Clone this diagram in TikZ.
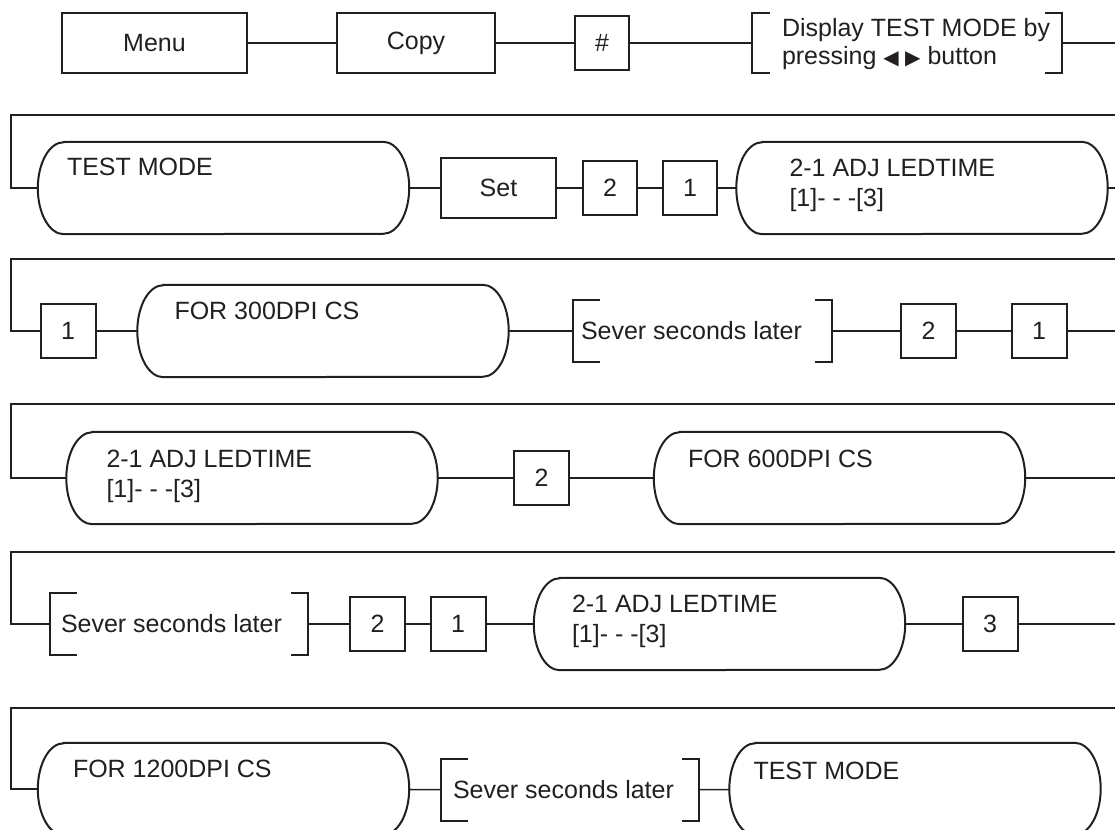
\documentclass[tikz,border=0pt]{standalone}
\usepackage{fontspec}
\setmainfont{Liberation Sans}
\newfontfamily\symfont{DejaVu Sans}
\usetikzlibrary{calc}
\definecolor{ink}{HTML}{231F20}
\tikzset{
 rim/.style={ink,line width=2pt},
 link/.style={ink,line width=1.6pt},
 btn/.style={draw=ink,line width=2pt,minimum height=60pt,inner sep=0pt,text=ink},
 digit/.style={btn,minimum width=55pt,minimum height=54pt},
 pill/.style={minimum width=371pt,minimum height=92pt,inner sep=0pt},
 brk/.style={minimum width=258pt,minimum height=61pt,inner sep=0pt},
 txt/.style={inner sep=0pt,align=left,text=ink}
}
\newcommand{\pillrim}[1]{\draw[rim] ([xshift=26pt]#1.north west) -- ([xshift=-26pt]#1.north east) arc[start angle=90,end angle=-90,x radius=26pt,y radius=46pt] -- ([xshift=26pt]#1.south west) arc[start angle=270,end angle=90,x radius=26pt,y radius=46pt] -- cycle;}
\newcommand{\brkrim}[3]{\draw[rim] ([xshift=#2]#1.north west) -- (#1.north west) -- (#1.south west) -- ++(#2,0);\draw[rim] ([xshift=-#3]#1.north east) -- (#1.north east) -- (#1.south east) -- ++(-#3,0);}
\begin{document}
\begin{tikzpicture}[x=1pt,y=1pt,font=\fontsize{25}{30}\selectfont]
\useasboundingbox (0,0) rectangle (1115,-829);
\clip (0,0) rectangle (1115,-829);
% row 1
\node[btn,minimum width=185pt] (menu) at (154.5,-43) {Menu};
\node[btn,minimum width=158pt] (copy) at (416,-43) {Copy};
\node[digit,minimum width=54pt] (hash) at (602,-43) {\#};
\node[brk,minimum width=310pt,minimum height=60pt] (disp) at (907,-43) {};\brkrim{disp}{18pt}{17pt}
\node[txt,anchor=west,font=\fontsize{25}{28}\selectfont] (dispt) at ([xshift=30pt,yshift=-1pt]disp.west) {Display TEST MODE by\\pressing {\symfont\fontsize{20}{20}\selectfont ◀ ▶} button};
\coordinate (e1) at (1115,-43);\coordinate (w1) at (1115,-115);
\draw[link] (menu) -- (copy);\draw[link] (copy) -- (hash);\draw[link] (hash) -- (disp);\draw[link] (disp) -- (e1);
% row 2
\node[pill] (tm1) at (223.5,-188) {};\pillrim{tm1}
\node[txt,anchor=north west] (tm1t) at ([shift={(29pt,-16pt)}]tm1.north west) {TEST MODE};
\node[btn,minimum width=115pt] (set) at (498.5,-188) {Set};
\node[digit,minimum width=54pt] (two1) at (610,-188) {2};
\node[digit,minimum width=54pt] (one1) at (690,-188) {1};
\node[pill] (adj1) at (922,-188) {};\pillrim{adj1}
\node[txt,anchor=north west] (adj1t) at ([shift={(53pt,-17pt)}]adj1.north west) {2-1 ADJ LEDTIME\\{}[1]- - -[3]};
\coordinate (e2) at (1115,-188);\coordinate (w2) at (1115,-259);
\draw[link] (w1) -- (11,-115) |- (tm1);\draw[link] (tm1) -- (set);\draw[link] (set) -- (two1);\draw[link] (two1) -- (one1);\draw[link] (one1) -- (adj1);\draw[link] (adj1) -- (e2);
% row 3
\node[digit] (one2) at (68,-331) {1};
\node[pill] (p300) at (323,-331) {};\pillrim{p300}
\node[txt,anchor=north west] (p300t) at ([shift={(37pt,-17pt)}]p300.north west) {FOR 300DPI CS};
\node[brk,minimum width=259pt] (sev1) at (702.5,-331) {};\brkrim{sev1}{27pt}{17pt}
\node[txt,anchor=west] (sev1t) at ([xshift=8pt]sev1.west) {Sever seconds later};
\node[digit] (two2) at (928.5,-331) {2};
\node[digit] (one3) at (1039,-331) {1};
\coordinate (e3) at (1115,-331);\coordinate (w3) at (1115,-404);
\draw[link] (w2) -- (11,-259) |- (one2);\draw[link] (one2) -- (p300);\draw[link] (p300) -- (sev1);\draw[link] (sev1) -- (two2);\draw[link] (two2) -- (one3);\draw[link] (one3) -- (e3);
% row 4
\node[pill] (adj2) at (252,-478) {};\pillrim{adj2}
\node[txt,anchor=north west] (adj2t) at ([shift={(40pt,-18pt)}]adj2.north west) {2-1 ADJ LEDTIME\\{}[1]- - -[3]};
\node[digit] (two3) at (541.5,-478) {2};
\node[pill] (p600) at (839.5,-478) {};\pillrim{p600}
\node[txt,anchor=north west] (p600t) at ([shift={(34pt,-18pt)}]p600.north west) {FOR 600DPI CS};
\coordinate (e4) at (1115,-478);\coordinate (w4) at (1115,-552);
\draw[link] (w3) -- (11,-404) |- (adj2);\draw[link] (adj2) -- (two3);\draw[link] (two3) -- (p600);\draw[link] (p600) -- (e4);
% row 5
\node[brk] (sev2) at (179,-624) {};\brkrim{sev2}{27pt}{17pt}
\node[txt,anchor=west] (sev2t) at ([xshift=11pt]sev2.west) {Sever seconds later};
\node[digit] (two4) at (377.5,-624) {2};
\node[digit] (one4) at (458,-624) {1};
\node[pill] (adj3) at (719.5,-624) {};\pillrim{adj3}
\node[txt,anchor=north west] (adj3t) at ([shift={(38pt,-17pt)}]adj3.north west) {2-1 ADJ LEDTIME\\{}[1]- - -[3]};
\node[digit] (three) at (990,-624) {3};
\coordinate (e5) at (1115,-624);\coordinate (w5) at (1115,-708);
\draw[link] (w4) -- (11,-552) |- (sev2);\draw[link] (sev2) -- (two4);\draw[link] (two4) -- (one4);\draw[link] (one4) -- (adj3);\draw[link] (adj3) -- (three);\draw[link] (three) -- (e5);
% row 6
\node[pill] (p1200) at (223.5,-789) {};\pillrim{p1200}
\node[txt,anchor=north west] (p1200t) at ([shift={(35pt,-17pt)}]p1200.north west) {FOR 1200DPI CS};
\node[brk] (sev3) at (570,-790) {};\brkrim{sev3}{27pt}{17pt}
\node[txt,anchor=west] (sev3t) at ([xshift=12pt]sev3.west) {Sever seconds later};
\node[pill] (tm2) at (915,-789) {};\pillrim{tm2}
\node[txt,anchor=north west] (tm2t) at ([shift={(24pt,-19pt)}]tm2.north west) {TEST MODE};
\draw[link] (w5) -- (11,-708) |- (p1200);\draw[link] (p1200) -- (sev3);\draw[link] (sev3) -- (tm2);
\end{tikzpicture}
\end{document}
